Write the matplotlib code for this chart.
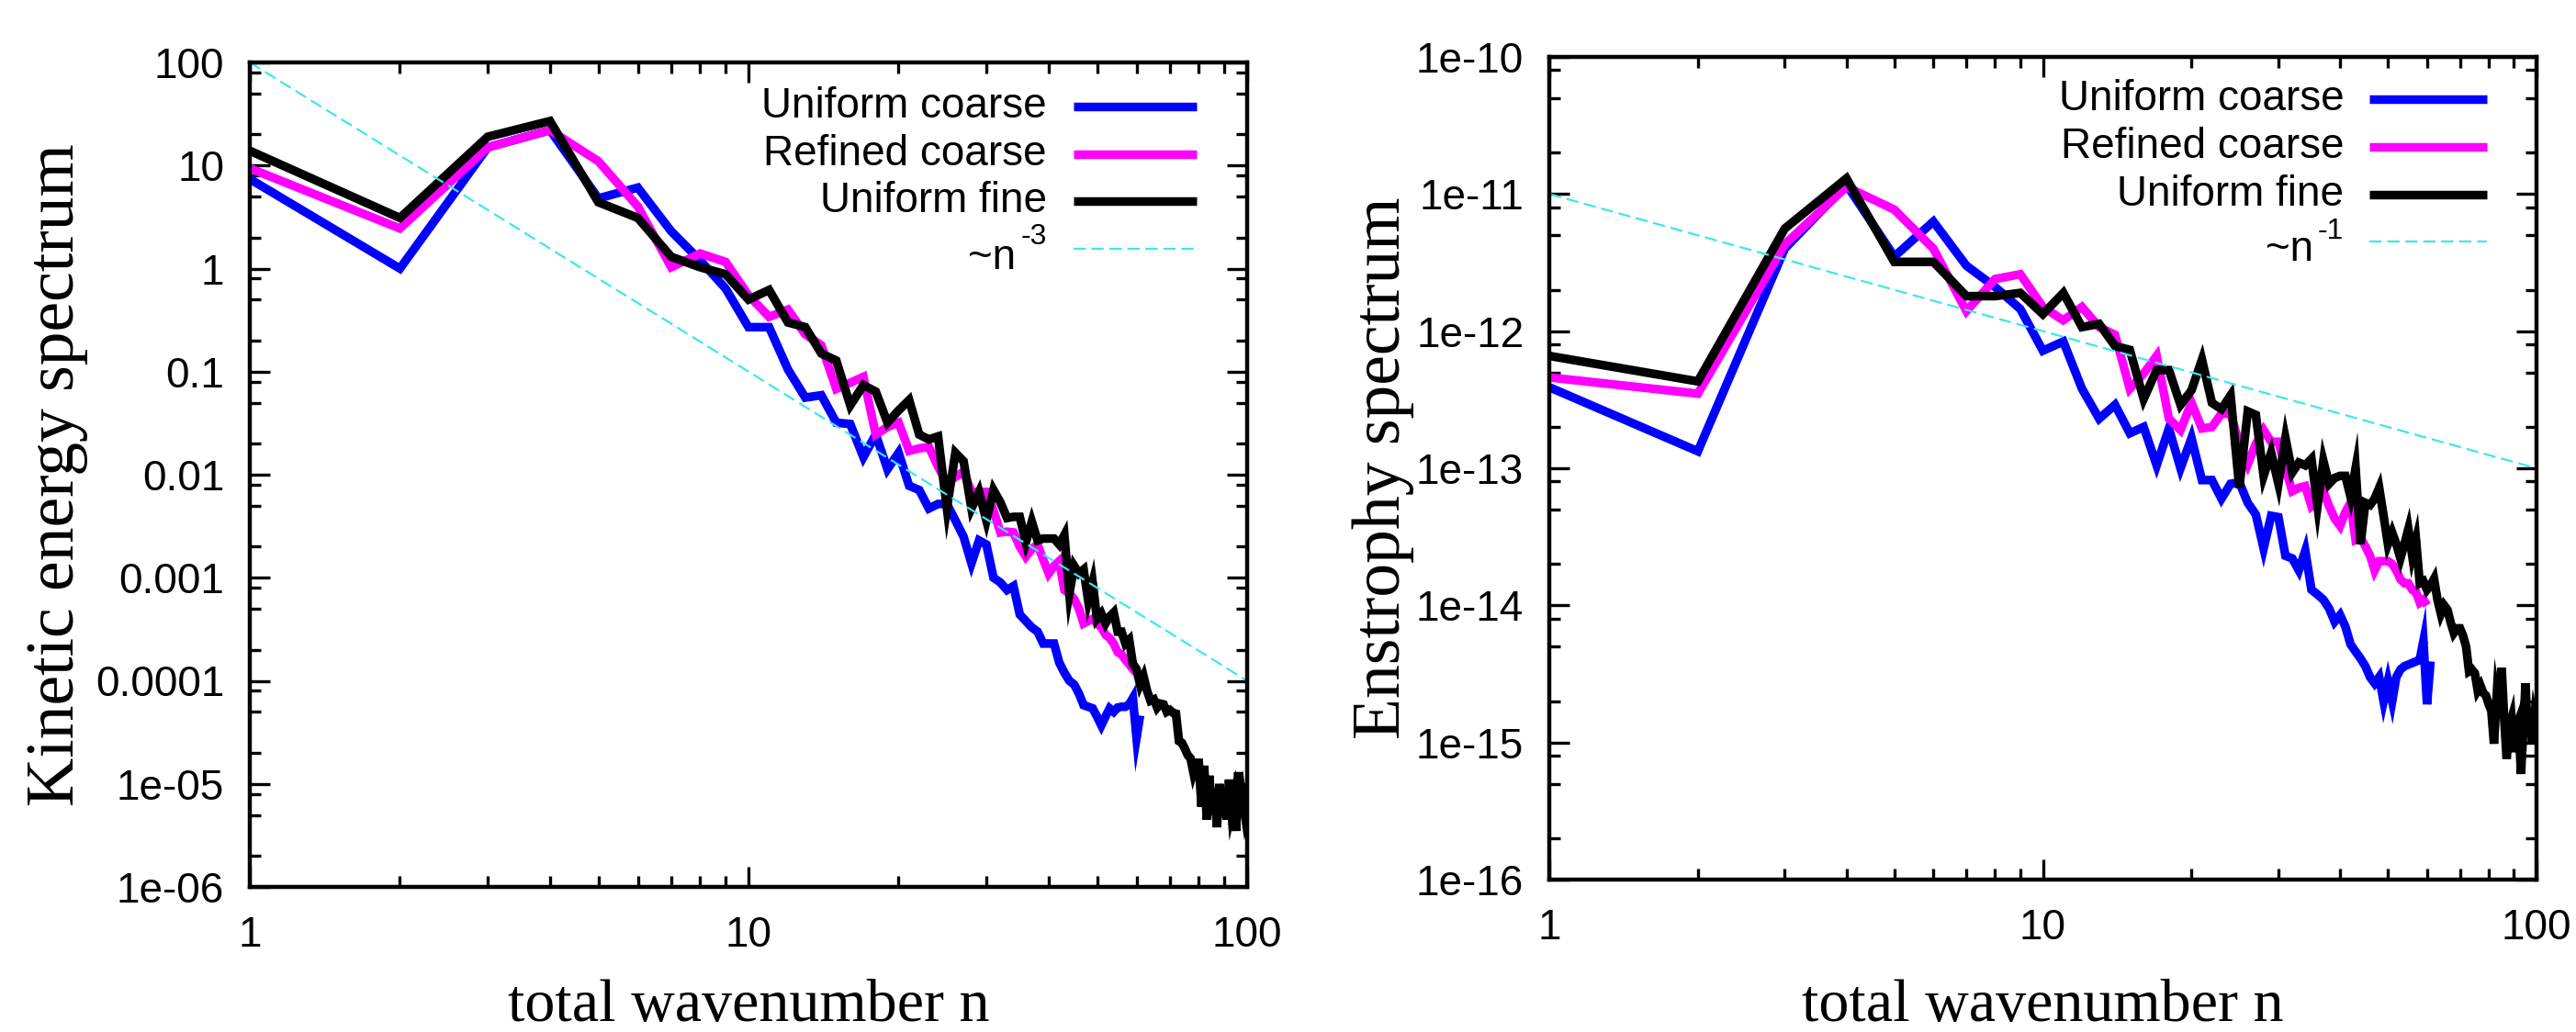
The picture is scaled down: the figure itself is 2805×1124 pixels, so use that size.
import matplotlib.pyplot as plt
import numpy as np
from matplotlib.ticker import FixedLocator, FixedFormatter, LogLocator, NullFormatter

# Fuente de los textos
plt.rcParams['font.family'] = ['Liberation Sans', 'DejaVu Sans']

# Datos
n_coarse = np.arange(1, 62)    # Uniform coarse
n_refined = np.arange(1, 61)   # Refined coarse
n_fine = np.arange(1, 101)     # Uniform fine

ke_uniform_coarse = [
    7.4, 1.0, 15, 22, 4.8, 6.1, 2.3, 1.2, 0.64, 0.27,
    0.27, 0.105, 0.056, 0.059, 0.032, 0.031, 0.0148, 0.0245, 0.0113, 0.0163,
    0.0078, 0.0071, 0.0047, 0.0052, 0.0052, 0.0036, 0.0025, 0.00138, 0.0023, 0.0021,
    0.001, 0.0009, 0.00076, 0.00083, 0.00044, 0.00038, 0.00033, 0.0003, 0.00023, 0.00023,
    0.00023, 0.00015, 0.00012, 0.0001, 9.2e-5, 7.5e-5, 5.8e-5, 5.6e-5, 5.4e-5, 4.5e-5,
    3.7e-5, 4.5e-5, 5.4e-5, 5.0e-5, 5.5e-5, 5.6e-5, 5.6e-5, 5.9e-5, 6.8e-5, 2.8e-5,
    4.6e-5]
ke_refined_coarse = [
    9.4, 2.45, 15, 22, 11, 4.0, 1.03, 1.4, 1.16, 0.55,
    0.34, 0.40, 0.23, 0.18, 0.068, 0.078, 0.089, 0.0245, 0.029, 0.032,
    0.017, 0.018, 0.0186, 0.012, 0.0082, 0.0095, 0.0107, 0.0068, 0.0068, 0.0068,
    0.0045, 0.00275, 0.0028, 0.00275, 0.0020, 0.0016, 0.0019, 0.0021, 0.0015, 0.0011,
    0.0013, 0.00145, 0.00076, 0.0007, 0.00062, 0.0005, 0.00036, 0.00038, 0.0004, 0.00036,
    0.00033, 0.00028, 0.00026, 0.00023, 0.00019, 0.00018, 0.00016, 0.000145, 0.00013, 0.00012]
ke_uniform_fine = [
    13.9, 3.1, 19, 27, 4.4, 3.1, 1.3, 1.03, 0.88, 0.5,
    0.62, 0.30, 0.27, 0.15, 0.128, 0.047, 0.074, 0.064, 0.032, 0.042,
    0.053, 0.0245, 0.022, 0.0235, 0.0047, 0.0163, 0.0135, 0.0047, 0.0068, 0.0036,
    0.0071, 0.0054, 0.0038, 0.0039, 0.0039, 0.0022, 0.0035, 0.0023, 0.0024, 0.0024,
    0.0024, 0.0021, 0.0026, 0.0007, 0.0013, 0.0011, 0.0012, 0.0006, 0.0009, 0.0004,
    0.00045, 0.00036, 0.00042, 0.00046, 0.0003, 0.0003, 0.00023, 0.00025, 0.000146, 0.00013,
    9.2e-5, 0.00011, 8e-5, 6.4e-5, 6.6e-5, 5.5e-5, 6.0e-5, 5.9e-5, 5.0e-5, 5.2e-5,
    4.9e-5, 4.8e-5, 2.6e-5, 2.5e-5, 2.2e-5, 1.9e-5, 1.77e-5, 1.3e-5, 1.6e-5, 1.6e-5,
    6e-6, 1.5e-5, 4.5e-6, 1.2e-5, 5e-6, 9e-6, 3.8e-6, 1.0e-5, 5e-6, 8e-6,
    4.5e-6, 1.1e-5, 5.5e-6, 7e-6, 3.5e-6, 1.3e-5, 5e-6, 7e-6, 5e-6, 6.4e-6]

ens_uniform_coarse = [
    3.9e-13, 1.33e-13, 4.0e-12, 1.17e-11, 3.5e-12, 6.3e-12, 3.0e-12, 2.1e-12, 1.45e-12, 7.2e-13,
    8.4e-13, 3.8e-13, 2.3e-13, 2.9e-13, 1.8e-13, 2.0e-13, 1.05e-13, 1.95e-13, 1.0e-13, 1.66e-13,
    8.2e-14, 8.2e-14, 6.0e-14, 7.7e-14, 7.9e-14, 5.6e-14, 4.6e-14, 2.6e-14, 4.5e-14, 4.4e-14,
    2.3e-14, 2.2e-14, 1.8e-14, 2.5e-14, 1.3e-14, 1.2e-14, 1.1e-14, 9.5e-15, 7.6e-15, 8.5e-15,
    7e-15, 5.2e-15, 4.6e-15, 4.1e-15, 3.6e-15, 3.0e-15, 2.7e-15, 3.0e-15, 2.0e-15, 2.8e-15,
    2.0e-15, 3.0e-15, 3.4e-15, 3.6e-15, 3.7e-15, 3.8e-15, 3.9e-15, 4.0e-15, 5.5e-15, 1.9e-15,
    3.9e-15]
ens_refined_coarse = [
    4.6e-13, 3.5e-13, 4.3e-12, 1.13e-11, 7.7e-12, 4.0e-12, 1.4e-12, 2.4e-12, 2.6e-12, 1.5e-12,
    1.2e-12, 1.5e-12, 1.07e-12, 9.4e-13, 3.8e-13, 4.9e-13, 6.6e-13, 2.3e-13, 1.9e-13, 3.0e-13,
    1.95e-13, 2.0e-13, 2.5e-13, 2.5e-13, 1.5e-13, 1.07e-13, 1.5e-13, 1.9e-13, 1.56e-13, 1.56e-13,
    1.0e-13, 6.8e-14, 7.2e-14, 7.4e-14, 5.3e-14, 5.8e-14, 6.8e-14, 5.3e-14, 4.3e-14, 3.8e-14,
    4.8e-14, 5.6e-14, 3.0e-14, 3.1e-14, 2.7e-14, 2.3e-14, 1.8e-14, 2.1e-14, 2.1e-14, 2.1e-14,
    2.0e-14, 1.8e-14, 1.55e-14, 1.45e-14, 1.45e-14, 1.3e-14, 1.25e-14, 1.05e-14, 1.1e-14, 1.0e-14]
ens_uniform_fine = [
    6.6e-13, 4.3e-13, 5.6e-12, 1.3e-11, 3.2e-12, 3.2e-12, 1.8e-12, 1.8e-12, 1.9e-12, 1.33e-12,
    1.9e-12, 1.07e-12, 1.13e-12, 7.8e-13, 7.3e-13, 3.2e-13, 5.2e-13, 5.2e-13, 2.9e-13, 3.7e-13,
    6.2e-13, 3.0e-13, 2.7e-13, 3.4e-13, 7.2e-14, 2.6e-13, 2.45e-13, 8.8e-14, 1.3e-13, 7.7e-14,
    1.66e-13, 9.3e-14, 1.1e-13, 1.05e-13, 1.17e-13, 5.3e-14, 1.13e-13, 7.7e-14, 8.5e-14, 8.8e-14,
    8.8e-14, 6.2e-14, 1.0e-13, 2.8e-14, 5.6e-14, 5.4e-14, 6.0e-14, 7.2e-14, 4.5e-14, 2.8e-14,
    3.4e-14, 2.8e-14, 2.2e-14, 2.8e-14, 3.6e-14, 2.3e-14, 3.0e-14, 1.45e-14, 1.5e-14, 1.3e-14,
    1.4e-14, 1.56e-14, 1.1e-14, 8.7e-15, 1.0e-14, 9.3e-15, 7.5e-15, 6.3e-15, 6.8e-15, 6.8e-15,
    6.0e-15, 5.0e-15, 3.3e-15, 3.4e-15, 3.2e-15, 2.4e-15, 2.6e-15, 2.3e-15, 2.2e-15, 1.9e-15,
    1.7e-15, 9.8e-16, 2.1e-15, 1.6e-15, 3.5e-15, 1.5e-15, 7.6e-16, 1.3e-15, 1.5e-15, 8.5e-16,
    1.3e-15, 1.45e-15, 5.9e-16, 1.2e-15, 2.7e-15, 1.1e-15, 1.7e-15, 1.0e-15, 1.5e-15, 1.26e-15]

# Rectas de referencia (extremos)
ref_n = [1, 100]
ref_ke = [100, 1e-4]    # ~n^-3
ref_ens = [1e-11, 1e-13]  # ~n^-1

# Ejes
x_ticks = [1, 10, 100]
x_tick_labels = ['1', '10', '100']
ke_ticks = [1e-6, 1e-5, 1e-4, 1e-3, 1e-2, 1e-1, 1, 10, 100]
ke_tick_labels = ['1e-06', '1e-05', '0.0001', '0.001', '0.01', '0.1', '1', '10', '100']
ens_ticks = [1e-16, 1e-15, 1e-14, 1e-13, 1e-12, 1e-11, 1e-10]
ens_tick_labels = ['1e-16', '1e-15', '1e-14', '1e-13', '1e-12', '1e-11', '1e-10']

labels = ['Uniform coarse', 'Refined coarse', 'Uniform fine']
colores = ['#0000ff', '#ff00ff', '#000000']
cian = '#3ee6ee'
grosor = 6.8


def panel(ax, series, ref_y, exp, y_ticks, y_labels, ylabel, leg):
    # Curvas
    for (n, v), c in zip(series, colores):
        ax.plot(n, v, color=c, lw=grosor, solid_joinstyle='miter', solid_capstyle='butt')
    ax.plot(ref_n, ref_y, color=cian, lw=1.6, dashes=(6, 2.8))

    ax.set_xscale('log')
    ax.set_yscale('log')
    ax.set_xlim(1, 100)
    ax.set_ylim(y_ticks[0], y_ticks[-1])
    ax.xaxis.set_major_locator(FixedLocator(x_ticks))
    ax.xaxis.set_major_formatter(FixedFormatter(x_tick_labels))
    ax.xaxis.set_minor_locator(LogLocator(base=10, subs=np.arange(2, 10), numticks=100))
    ax.xaxis.set_minor_formatter(NullFormatter())
    ax.yaxis.set_major_locator(FixedLocator(y_ticks))
    ax.yaxis.set_major_formatter(FixedFormatter(y_labels))
    ax.yaxis.set_minor_locator(LogLocator(base=10, subs=(2, 5, 8), numticks=100))
    ax.yaxis.set_minor_formatter(NullFormatter())
    ax.tick_params(which='both', direction='in', top=True, right=True, width=2.4,
                   labelsize=33)
    ax.tick_params(which='major', length=16)
    ax.tick_params(which='minor', length=8.5)
    ax.tick_params(axis='x', pad=22)
    ax.tick_params(axis='y', pad=20)
    for s in ax.spines.values():
        s.set_linewidth(3.2)

    # Etiquetas de los ejes
    ax.text(leg['ylab_x'], 0.5, ylabel, rotation=90, ha='center', va='center',
            transform=ax.transAxes, fontsize=53, family='Liberation Serif')
    ax.text(0.5, leg['xlab_y'], 'total wavenumber n', ha='center', va='baseline',
            transform=ax.transAxes, fontsize=47.5, family='Liberation Serif')

    # Leyenda estilo gnuplot
    x0, x1, xt = leg['x0'], leg['x1'], leg['xt']
    for y, lab, c in zip(leg['rows'][:3], labels, colores):
        ax.plot([x0, x1], [y, y], color=c, lw=grosor, transform=ax.transAxes,
                clip_on=False, solid_capstyle='butt')
        ax.text(xt, y, lab, ha='right', va='center', transform=ax.transAxes, fontsize=33)
    y = leg['rows'][3]
    ax.plot([x0, x1], [y, y], color=cian, lw=1.6, dashes=(6, 2.8),
            transform=ax.transAxes, clip_on=False)
    ax.text(leg['xn'], leg['yn'], '~n', ha='right', va='center',
            transform=ax.transAxes, fontsize=33)
    ax.text(xt, leg['ys'], exp, ha='right', va='center',
            transform=ax.transAxes, fontsize=23)


fig = plt.figure(figsize=(28.05, 11.24), dpi=100)

ax1 = fig.add_axes([272 / 2805, 158 / 1124, 1086 / 2805, 898 / 1124])
panel(ax1,
      [(n_coarse, ke_uniform_coarse), (n_refined, ke_refined_coarse), (n_fine, ke_uniform_fine)],
      ref_ke, '-3', ke_ticks, ke_tick_labels, 'Kinetic energy spectrum',
      dict(x0=0.826, x1=0.949, xt=0.799, rows=[0.9465, 0.8886, 0.8318, 0.7739],
           xn=0.768, yn=0.7628, ys=0.7884, ylab_x=-0.1934, xlab_y=-0.1626))

ax2 = fig.add_axes([1687 / 2805, 166 / 1124, 1075 / 2805, 896 / 1124])
panel(ax2,
      [(n_coarse, ens_uniform_coarse), (n_refined, ens_refined_coarse), (n_fine, ens_uniform_fine)],
      ref_ens, '-1', ens_ticks, ens_tick_labels, 'Enstrophy spectrum',
      dict(x0=0.831, x1=0.950, xt=0.805, rows=[0.9487, 0.8906, 0.8326, 0.7757],
           xn=0.774, yn=0.7656, ys=0.788, ylab_x=-0.1684, xlab_y=-0.1719))

fig.savefig('out.png', dpi=100)
